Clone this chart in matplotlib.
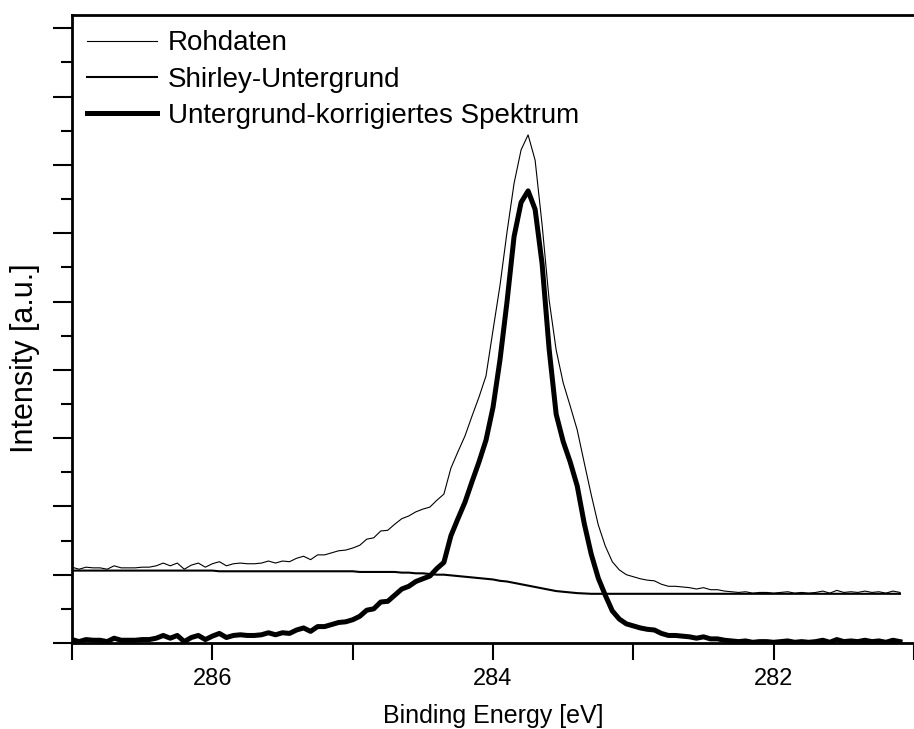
import numpy as np
import matplotlib
matplotlib.use("Agg")
import matplotlib.pyplot as plt
from matplotlib.ticker import MultipleLocator

plt.rcParams['font.family'] = ['Liberation Sans', 'DejaVu Sans']

# binding energy grid, 0.05 eV steps from 287.0 down to 281.1
energy = 287.0 - 0.05 * np.arange(119)

# raw spectrum (Rohdaten)
raw = [1.11, 1.08, 1.11, 1.10, 1.10, 1.08, 1.13, 1.10, 1.10, 1.10,
       1.11, 1.11, 1.13, 1.17, 1.13, 1.17, 1.08, 1.14, 1.17, 1.11,
       1.16, 1.19, 1.13, 1.16, 1.17, 1.16, 1.16, 1.17, 1.20, 1.17,
       1.20, 1.19, 1.24, 1.27, 1.22, 1.29, 1.29, 1.32, 1.35, 1.36,
       1.39, 1.43, 1.52, 1.54, 1.64, 1.65, 1.74, 1.82, 1.86, 1.92,
       1.96, 1.99, 2.09, 2.18, 2.56, 2.80, 3.03, 3.32, 3.60, 3.91,
       4.58, 5.24, 6.02, 6.73, 7.22, 7.44, 7.07, 6.12, 5.02, 4.29,
       3.81, 3.47, 3.12, 2.64, 2.17, 1.73, 1.42, 1.19, 1.07, 1.00,
       0.97, 0.94, 0.92, 0.91, 0.86, 0.83, 0.83, 0.82, 0.81, 0.79,
       0.81, 0.78, 0.78, 0.76, 0.75, 0.74, 0.75, 0.73, 0.74, 0.74,
       0.73, 0.74, 0.75, 0.73, 0.74, 0.73, 0.74, 0.76, 0.73, 0.77,
       0.74, 0.75, 0.74, 0.76, 0.74, 0.75, 0.73, 0.76, 0.74]

# Shirley background
shirley = ([1.06] * 21 + [1.05] * 20 +
           [1.04, 1.04, 1.04, 1.04, 1.04, 1.04, 1.03, 1.03, 1.02, 1.02,
            1.01, 1.00, 1.00, 0.99, 0.98, 0.97, 0.96, 0.95, 0.94, 0.93,
            0.91, 0.90, 0.88, 0.86, 0.84, 0.82, 0.80, 0.78, 0.76, 0.75,
            0.74, 0.73, 0.725] + [0.72] * 45)

# background-corrected spectrum
corrected = [0.05, 0.02, 0.05, 0.04, 0.04, 0.02, 0.07, 0.04, 0.04, 0.04,
             0.05, 0.05, 0.07, 0.11, 0.07, 0.11, 0.02, 0.08, 0.11, 0.05,
             0.10, 0.14, 0.08, 0.11, 0.12, 0.11, 0.11, 0.12, 0.15, 0.12,
             0.15, 0.14, 0.19, 0.22, 0.17, 0.24, 0.24, 0.27, 0.30, 0.31,
             0.34, 0.39, 0.48, 0.50, 0.60, 0.61, 0.70, 0.79, 0.83, 0.90,
             0.94, 0.98, 1.09, 1.18, 1.57, 1.82, 2.06, 2.36, 2.65, 2.97,
             3.45, 4.15, 5.00, 5.95, 6.45, 6.62, 6.35, 5.55, 4.30, 3.35,
             2.95, 2.65, 2.30, 1.75, 1.30, 0.95, 0.70, 0.47, 0.35, 0.28,
             0.25, 0.22, 0.20, 0.19, 0.14, 0.11, 0.11, 0.10, 0.09, 0.07,
             0.09, 0.06, 0.06, 0.04, 0.03, 0.02, 0.03, 0.01, 0.02, 0.02,
             0.01, 0.02, 0.03, 0.01, 0.02, 0.01, 0.02, 0.04, 0.01, 0.05,
             0.02, 0.03, 0.02, 0.04, 0.02, 0.03, 0.01, 0.04, 0.02]

xtick_pos = [287, 286, 285, 284, 283, 282, 281]
xtick_labels = ['', '286', '', '284', '', '282', '']

fig = plt.figure(figsize=(9.14, 7.29), dpi=100)
ax = fig.add_axes([0.0788, 0.118, 0.9212, 0.8614])

ax.plot(energy, raw, color='black', lw=0.8, label='Rohdaten')
ax.plot(energy, shirley, color='black', lw=1.5, label='Shirley-Untergrund')
ax.plot(energy, corrected, color='black', lw=3.6, label='Untergrund-korrigiertes Spektrum')

ax.set_xlim(287.0, 281.088)
ax.set_ylim(0, 9.195)

ax.set_xticks(xtick_pos)
ax.set_xticklabels(xtick_labels)
ax.yaxis.set_major_locator(MultipleLocator(1))
ax.yaxis.set_minor_locator(MultipleLocator(0.5))
ax.set_yticklabels([])

ax.tick_params(axis='x', direction='out', length=12, width=1.5, labelsize=17, pad=6)
ax.tick_params(axis='y', which='major', direction='out', length=14, width=1.5)
ax.tick_params(axis='y', which='minor', direction='out', length=8, width=1.5)

for s in ['left', 'bottom', 'top']:
    ax.spines[s].set_linewidth(2)
ax.spines['right'].set_visible(False)

ax.set_xlabel('Binding Energy [eV]', fontsize=18, labelpad=10)
ax.set_ylabel('Intensity [a.u.]', fontsize=22)
ax.yaxis.set_label_coords(-0.0386, 0.454)

ax.legend(loc='upper left', bbox_to_anchor=(0.0, 1.0), frameon=False, fontsize=20,
          handlelength=2.5, handletextpad=0.4, labelspacing=0.37, borderaxespad=0.15)

fig.savefig('out.png', dpi=100)
